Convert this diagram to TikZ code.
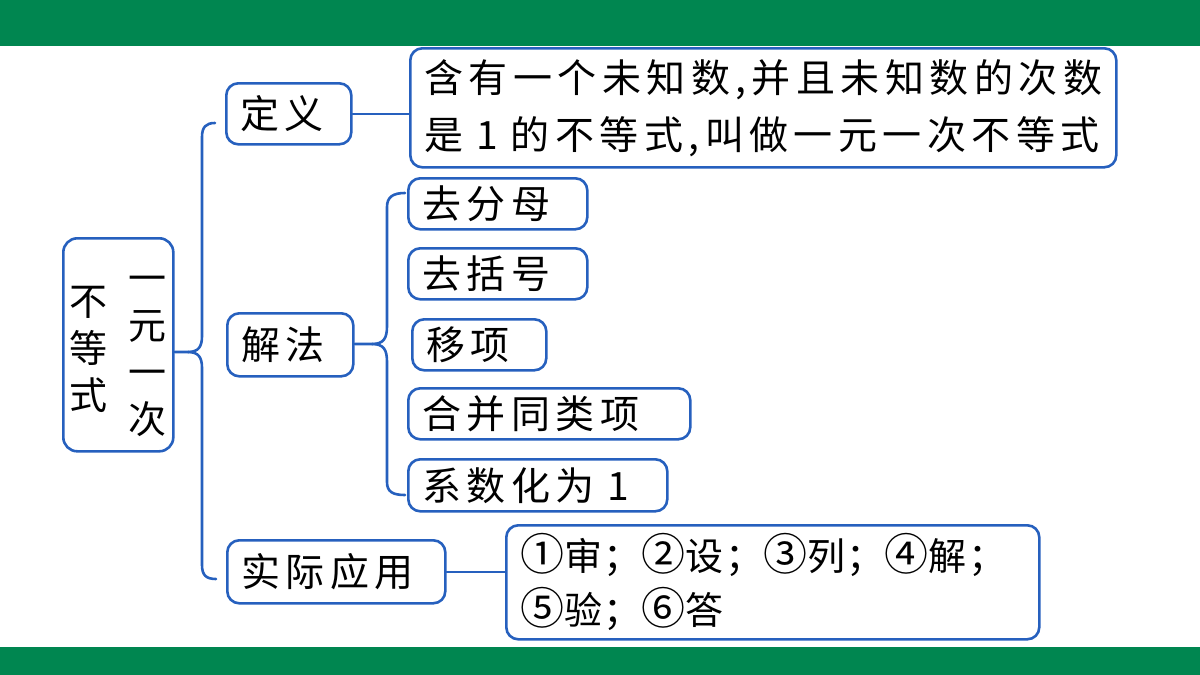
\documentclass[tikz,border=0pt]{standalone}
\usepackage{fontspec}
\newfontfamily\cjk{Noto Sans CJK SC}
\newfontfamily\cjkk[LetterSpace=14]{Noto Sans CJK SC}
\newfontfamily\cjkn[LetterSpace=4]{Noto Sans CJK SC}
\definecolor{xanh}{RGB}{0,134,80}
\definecolor{lam}{RGB}{38,96,190}
\newcommand{\cotchu}[1]{\begin{tabular}[c]{@{}c@{}}#1\end{tabular}}
\newcommand{\so}[1]{{\fontsize{44}{54}\selectfont #1}}
\begin{document}
\begin{tikzpicture}[x=1pt,y=-1pt,line join=round,line cap=round,
	hop/.style={draw=lam,line width=2.6pt,rounded corners=12pt,anchor=north west,inner xsep=14pt,inner ysep=0pt,align=left,font=\cjkk\fontsize{39}{57}\selectfont},
	noc/.style={draw=lam,line width=2.6pt}]
	\useasboundingbox (0,0) rectangle (1200,675);
	\fill[xanh] (0,0) rectangle (1200,46); % thanh tren
	\fill[xanh] (0,647) rectangle (1200,675); % thanh duoi
	% goc
	\node[draw=lam,line width=2.6pt,rounded corners=14pt,minimum width=110pt,minimum height=213pt,anchor=north west,inner sep=0pt,font=\cjk\fontsize{38}{47}\selectfont] (goc) at (62,237) {\raisebox{-15pt}[0pt][0pt]{\cotchu{不\\等\\式}\hspace{21pt}\cotchu{一\\元\\一\\次}}};
	% nhanh
	\node[hop,text width=97pt,minimum height=61pt] (dinh) at (225,82) {定义};
	\node[hop,text width=98pt,minimum height=63pt] (giai) at (226,312) {解法};
	\node[hop,text width=190pt,minimum height=63pt] (ung) at (226,539) {实际应用};
	\node[hop,text width=678pt,minimum height=119pt] (nd) at (409,47) {含有一个未知数,并且未知数的次数\\是 1 的不等式,叫做一元一次不等式};
	\node[hop,text width=151pt,minimum height=51pt] (b1) at (407,177) {去分母};
	\node[hop,text width=151pt,minimum height=51pt] (b2) at (407,247) {去括号};
	\node[hop,text width=106pt,minimum height=51pt] (b3) at (411,318) {移项};
	\node[hop,text width=254pt,minimum height=51pt] (b4) at (407,387) {合并同类项};
	\node[hop,text width=231pt,minimum height=52pt] (b5) at (407,458) {系数化为 1};
	\node[hop,text width=505pt,minimum height=114pt,font=\cjkn\fontsize{38}{54}\selectfont] (bb) at (505,524) {\so{①}审；\so{②}设；\so{③}列；\so{④}解；\\\so{⑤}验；\so{⑥}答};
	% noi
	\draw[noc] (dinh.east) -- (dinh.east -| nd.west);
	\draw[noc] (ung.east) -- (ung.east -| bb.west);
	% ngoac lon
	\coordinate (m1) at (188,352);
	\draw[noc] (goc.east |- m1) -- (m1) .. controls (199,352) and (202,346) .. (202,336) -- (202,137) .. controls (202,127) and (206,123) .. (215,123);
	\draw[noc] (m1) .. controls (199,352) and (202,358) .. (202,368) -- (202,565) .. controls (202,575) and (206,579) .. (216,579);
	% ngoac nho
	\coordinate (m2) at (372,344);
	\draw[noc] (giai.east |- m2) -- (m2) .. controls (384,344) and (387,338) .. (387,326) -- (387,207) .. controls (387,197) and (393,193) .. (405,193);
	\draw[noc] (m2) .. controls (384,344) and (387,350) .. (387,362) -- (387,482) .. controls (387,492) and (393,495) .. (405,495);
\end{tikzpicture}
\end{document}
